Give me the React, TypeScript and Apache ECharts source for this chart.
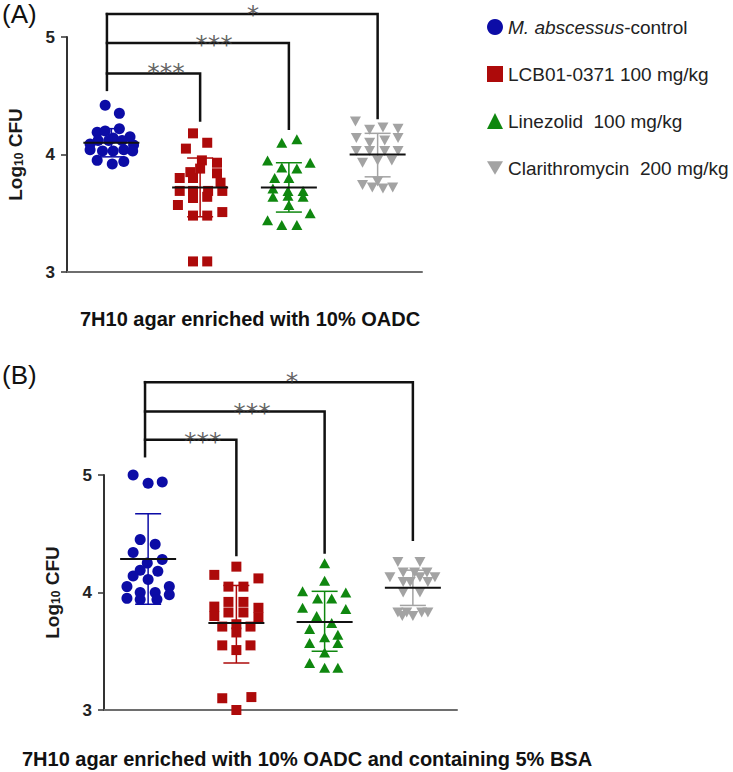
import React, { useEffect, useRef } from 'react';
import * as echarts from 'echarts';

const FONT = '"Liberation Sans", Arial, sans-serif';

const GROUPS = ['M. abscessus-control', 'LCB01-0371 100 mg/kg', 'Linezolid  100 mg/kg', 'Clarithromycin  200 mg/kg'];
const COLORS = ['#0c0ca6', '#ad0a0a', '#0f870f', '#a3a3a3'];
const SYMBOLS = ['circle', 'rect', 'triangle', 'path://M0,0L20,0L10,17Z'];
const SYMBOL_SIZES: any[] = [11, 10, [11, 10], [11, 10]];

// ---- Panel A (7H10 agar enriched with 10% OADC) ----
const A_ctrl = [4.42, 4.35, 4.22, 4.19, 4.20, 4.15, 4.09, 4.12, 4.12, 4.14, 4.12, 4.08, 4.04, 4.03, 4.03, 4.04, 4.03, 3.95, 3.92, 3.94];
const A_ctrl_dx = [-0.07, 0.09, 0.09, -0.16, -0.07, 0.21, -0.24, -0.15, -0.03, 0.02, 0.12, 0.25, -0.24, -0.10, 0.02, 0.14, 0.24, -0.16, 0.01, 0.14];
const A_lcb = [4.18, 4.10, 4.05, 3.95, 3.93, 3.85, 3.88, 3.84, 3.80, 3.80, 3.76, 3.69, 3.69, 3.69, 3.69, 3.57, 3.63, 3.64, 3.48, 3.48, 3.51, 3.09, 3.09];
const A_lcb_dx = [-0.08, 0.08, -0.16, 0.02, 0.19, -0.11, 0, 0.19, -0.23, -0.08, 0.23, -0.23, -0.08, 0.09, 0.25, -0.25, -0.08, 0.08, -0.08, 0.08, 0.25, -0.08, 0.08];
const A_lzd = [4.10, 4.13, 3.95, 3.89, 3.88, 3.93, 3.80, 3.80, 3.71, 3.69, 3.69, 3.64, 3.65, 3.64, 3.57, 3.50, 3.44, 3.40, 3.40];
const A_lzd_dx = [-0.08, 0.09, -0.24, -0.08, 0.09, 0.24, -0.16, 0, -0.18, -0.01, 0.16, -0.18, -0.01, 0.16, 0, 0.24, -0.24, -0.08, 0.09];
const A_clr = [4.28, 4.21, 4.23, 4.22, 4.14, 4.10, 4.12, 4.14, 4.03, 4.03, 4.03, 4.03, 3.93, 3.95, 3.95, 3.74, 3.72, 3.71, 3.72, 3.77];
const A_clr_dx = [-0.25, -0.09, 0.06, 0.23, -0.24, -0.09, 0.08, 0.23, -0.24, -0.09, 0.08, 0.23, -0.17, 0, 0.16, -0.17, -0.06, 0.06, 0.17, 0];
const A_mean = [4.10, 3.72, 3.72, 4.00];
const A_lo = [3.98, 3.47, 3.51, 3.81];
const A_hi = [4.22, 3.97, 3.93, 4.18];
const A_bracketY = [4.69, 4.95, 5.195];
const A_dropY = [4.29, 4.22, 4.31];
const A_stem = [0.95, 4.55];
const A_starX = [1.615, 2.156, 2.596];
const A_starY = [4.75, 4.99, 5.246];

// ---- Panel B (… containing 5% BSA) ----
const B_ctrl = [5.00, 4.93, 4.94, 4.45, 4.41, 4.34, 4.28, 4.25, 4.19, 4.18, 4.14, 4.11, 4.05, 4.05, 4.00, 4.00, 3.95, 3.94, 3.94, 3.98];
const B_ctrl_dx = [-0.17, 0, 0.16, -0.09, 0.08, -0.17, 0.16, -0.01, -0.09, 0.11, -0.17, 0, -0.24, 0.24, -0.09, 0.08, -0.24, -0.09, 0.10, 0.24];
const B_lcb = [4.22, 4.15, 4.12, 4.05, 4.05, 3.88, 3.92, 3.92, 3.87, 3.80, 3.83, 3.83, 3.79, 3.71, 3.73, 3.71, 3.66, 3.55, 3.55, 3.51, 3.10, 3.11, 3.00];
const B_lcb_dx = [0, -0.25, 0.25, -0.09, 0.08, -0.25, -0.09, 0.08, 0.25, -0.25, -0.09, 0.08, 0.25, -0.16, 0, 0.16, 0, -0.16, 0.16, 0, -0.16, 0.17, 0];
const B_lzd = [4.25, 4.10, 4.01, 3.95, 3.95, 4.00, 3.87, 3.86, 3.80, 3.74, 3.69, 3.62, 3.64, 3.57, 3.57, 3.49, 3.40, 3.36, 3.36];
const B_lzd_dx = [0, 0, -0.25, -0.08, 0.08, 0.24, -0.25, 0.24, -0.09, 0.08, -0.17, 0, 0.15, -0.17, 0.15, 0, -0.17, 0, 0.15];
const B_clr = [4.26, 4.26, 4.17, 4.17, 4.17, 4.13, 4.13, 4.13, 4.09, 4.09, 4.09, 4.00, 4.00, 3.83, 3.83, 3.83, 3.83, 3.80, 3.80];
const B_clr_dx = [-0.17, 0.08, -0.11, 0.02, 0.16, -0.26, 0.25, 0.08, -0.11, -0.03, 0.17, 0.08, -0.11, -0.17, -0.07, 0.10, 0.17, 0, -0.12];
const B_mean = [4.285, 3.74, 3.75, 4.04];
const B_lo = [3.90, 3.40, 3.50, 3.89];
const B_hi = [4.67, 4.06, 4.01, 4.19];
const B_bracketY = [5.30, 5.54, 5.79];
const B_dropY = [4.32, 4.34, 4.45];
const B_stem = [0.965, 5.16];
const B_starX = [1.62, 2.177, 2.63];
const B_starY = [5.34, 5.58, 5.85];

const STARS = ['***', '***', '*'];
const Y_TICKS = [3, 4, 5];
const SUBTITLES = ['7H10 agar enriched with 10% OADC', '7H10 agar enriched with 10% OADC and containing 5% BSA'];
const PANEL_TAGS = ['(A)', '(B)'];

function scatterSeries(axis: number, vals: number[][], dxs: number[][]) {
  return vals.map((v, g) => ({
    type: 'scatter',
    name: GROUPS[g],
    xAxisIndex: axis,
    yAxisIndex: axis,
    symbol: SYMBOLS[g],
    symbolSize: SYMBOL_SIZES[g],
    itemStyle: { color: COLORS[g], opacity: 1 },
    clip: false,
    silent: true,
    z: 2,
    data: v.map((y, i) => [g + 1 + dxs[g][i], y]),
  }));
}

function errorSeries(axis: number, mean: number[], lo: number[], hi: number[]) {
  return {
    type: 'custom',
    xAxisIndex: axis,
    yAxisIndex: axis,
    clip: false,
    silent: true,
    z: 4,
    data: mean.map((m, i) => [i + 1, m, lo[i], hi[i]]),
    renderItem: (params: any, api: any) => {
      const x = api.value(0);
      const pm = api.coord([x, api.value(1)]);
      const pl = api.coord([x, api.value(2)]);
      const ph = api.coord([x, api.value(3)]);
      const c = COLORS[params.dataIndex];
      const cap = 13;
      const half = 28;
      const st = { stroke: c, lineWidth: 1.5 };
      return {
        type: 'group',
        children: [
          { type: 'line', shape: { x1: pl[0], y1: pl[1], x2: ph[0], y2: ph[1] }, style: st },
          { type: 'line', shape: { x1: ph[0] - cap, y1: ph[1], x2: ph[0] + cap, y2: ph[1] }, style: st },
          { type: 'line', shape: { x1: pl[0] - cap, y1: pl[1], x2: pl[0] + cap, y2: pl[1] }, style: st },
          { type: 'line', shape: { x1: pm[0] - half, y1: pm[1], x2: pm[0] + half, y2: pm[1] }, style: { stroke: '#111', lineWidth: 2 } },
        ],
      };
    },
  };
}

function bracketSeries(axis: number, bY: number[], dY: number[], stem: number[], sx: number[], sy: number[]) {
  const line = (data: number[][]) => ({
    type: 'line',
    xAxisIndex: axis,
    yAxisIndex: axis,
    clip: false,
    silent: true,
    symbol: 'none',
    lineStyle: { color: '#111', width: 2.5, join: 'miter', cap: 'square' },
    z: 3,
    data,
  });
  const out: any[] = bY.map((y, i) => line([[stem[0], y], [i + 2, y], [i + 2, dY[i]]]));
  out.push(line([[stem[0], bY[bY.length - 1]], [stem[0], stem[1]]]));
  out.push({
    type: 'scatter',
    xAxisIndex: axis,
    yAxisIndex: axis,
    clip: false,
    silent: true,
    symbolSize: 1,
    itemStyle: { color: 'rgba(0,0,0,0)' },
    z: 5,
    label: {
      show: true,
      position: 'inside',
      formatter: (p: any) => p.name,
      fontSize: 25,
      fontFamily: '"DejaVu Sans", sans-serif',
      color: '#3a3a3a',
      offset: [0, 6],
    },
    data: sx.map((x, i) => ({ name: STARS[i], value: [x, sy[i]] })),
  });
  return out;
}

const yName = '{a|Log}{s|10}{a| CFU}';

function axesFor(grids: any[]) {
  const xAxis = grids.map((_, i) => ({
    type: 'value',
    gridIndex: i,
    min: 0.5,
    max: 4.5,
    axisLine: { show: true, onZero: false, lineStyle: { color: '#6e6e6e', width: 2 } },
    axisTick: { show: false },
    axisLabel: { show: false },
    splitLine: { show: false },
  }));
  const yAxis = grids.map((_, i) => ({
    type: 'value',
    gridIndex: i,
    min: Y_TICKS[0],
    max: Y_TICKS[Y_TICKS.length - 1],
    interval: 1,
    axisLine: { show: true, onZero: false, lineStyle: { color: '#333', width: 2 } },
    axisTick: { show: true, length: 6, lineStyle: { color: '#333', width: 1.5 } },
    axisLabel: { margin: 12, fontSize: 17, fontWeight: 'bold', color: '#222', fontFamily: FONT },
    splitLine: { show: false },
    name: yName,
    nameLocation: 'middle',
    nameGap: 42,
    nameTextStyle: {
      rich: {
        a: { fontSize: 19, fontWeight: 'bold', color: '#1a1a1a', fontFamily: FONT, verticalAlign: 'top', lineHeight: 19 },
        s: { fontSize: 12, fontWeight: 'bold', color: '#1a1a1a', fontFamily: FONT, verticalAlign: 'bottom', lineHeight: 12, padding: [10, 0, 0, 0] },
      },
    },
  }));
  return { xAxis, yAxis };
}

export default function App() {
  const ref = useRef<HTMLDivElement>(null);
  useEffect(() => {
    if (!ref.current) return;
    const chart = echarts.init(ref.current, undefined, { renderer: 'svg' });
    const grids = [
      { left: 67, top: 37, width: 355, height: 235 },
      { left: 104, top: 475, width: 353, height: 235 },
    ];
    const { xAxis, yAxis } = axesFor(grids);
    const option: any = {
      animation: false,
      grid: grids,
      xAxis,
      yAxis,
      legend: {
        orient: 'vertical',
        left: 482,
        top: 12,
        itemWidth: 16,
        itemHeight: 16,
        itemGap: 27,
        selectedMode: false,
        data: GROUPS,
        formatter: (n: string) => (n === GROUPS[0] ? '{i|M. abscessus}{n|-control}' : n),
        textStyle: {
          fontSize: 19,
          lineHeight: 20,
          color: '#222',
          fontFamily: FONT,
          rich: {
            i: { fontSize: 19, fontStyle: 'italic', color: '#222', fontFamily: FONT },
            n: { fontSize: 19, color: '#222', fontFamily: FONT },
          },
        },
      },
      graphic: [
        { type: 'text', left: 2, top: 1, style: { text: PANEL_TAGS[0], font: `26px ${FONT}`, fill: '#111' } },
        { type: 'text', left: 2, top: 362, style: { text: PANEL_TAGS[1], font: `26px ${FONT}`, fill: '#111' } },
        { type: 'text', left: 80, top: 309, style: { text: SUBTITLES[0], font: `bold 20px ${FONT}`, fill: '#111' } },
        { type: 'text', left: 22, top: 749, style: { text: SUBTITLES[1], font: `bold 20px ${FONT}`, fill: '#111' } },
      ],
      series: [
        ...scatterSeries(0, [A_ctrl, A_lcb, A_lzd, A_clr], [A_ctrl_dx, A_lcb_dx, A_lzd_dx, A_clr_dx]),
        errorSeries(0, A_mean, A_lo, A_hi),
        ...bracketSeries(0, A_bracketY, A_dropY, A_stem, A_starX, A_starY),
        ...scatterSeries(1, [B_ctrl, B_lcb, B_lzd, B_clr], [B_ctrl_dx, B_lcb_dx, B_lzd_dx, B_clr_dx]),
        errorSeries(1, B_mean, B_lo, B_hi),
        ...bracketSeries(1, B_bracketY, B_dropY, B_stem, B_starX, B_starY),
      ],
    };
    chart.setOption(option);
    return () => chart.dispose();
  }, []);
  return (
    <div
      ref={ref}
      style={{ position: 'fixed', left: 0, top: 0, width: 733, height: 772, background: '#fff' }}
    />
  );
}
